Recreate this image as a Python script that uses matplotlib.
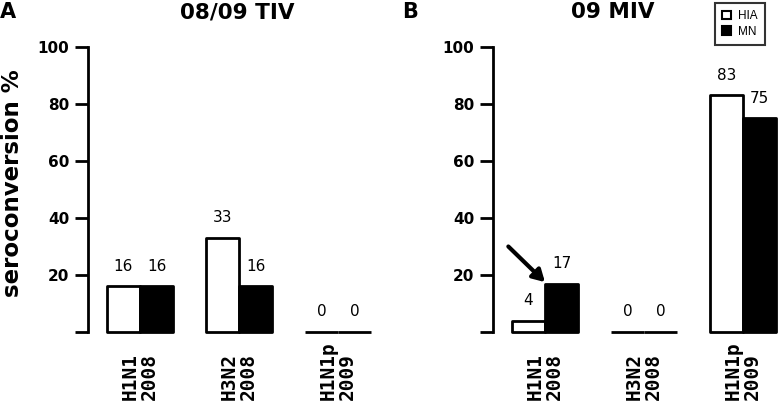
import matplotlib
matplotlib.use("Agg")
import matplotlib.pyplot as plt
from matplotlib.patches import Patch
import numpy as np

categories = ["H1N1\n2008", "H3N2\n2008", "H1N1p\n2009"]
panel_titles = ["08/09 TIV", "09 MIV"]
panel_letters = ["A", "B"]
tiv_hia = [16, 33, 0]
tiv_mn = [16, 16, 0]
miv_hia = [4, 0, 83]
miv_mn = [17, 0, 75]
yticks = [0, 20, 40, 60, 80, 100]
ytick_labels = ["", "20", "40", "60", "80", "100"]
series_names = ["HIA", "MN"]

W, H = 778, 403
fig = plt.figure(figsize=(W / 100, H / 100), dpi=100)

def px_axes(left, right, bottom, top):
    return fig.add_axes([left / W, 1 - bottom / H, (right - left) / W, (bottom - top) / H])

unit = 99.0
axA = px_axes(88, 88 + 3.025 * unit, 332, 47)
axB = px_axes(493, 493 + 2.879 * unit, 332, 47)
bw = 0.335

for ax, hia, mn, xr in [(axA, tiv_hia, tiv_mn, 2.5), (axB, miv_hia, miv_mn, 2.354)]:
    x = np.arange(len(categories))
    ax.bar(x - bw / 2, hia, bw, color="white", edgecolor="black", linewidth=2,
           clip_on=False, joinstyle="round")
    ax.bar(x + bw / 2, mn, bw, color="black", edgecolor="black", linewidth=2,
           clip_on=False, joinstyle="round")
    for xi, v in zip(x - bw / 2, hia):
        ax.annotate(str(v), (xi, v), xytext=(0, 9), textcoords="offset points",
                    ha="center", va="bottom", fontsize=11)
    for xi, v in zip(x + bw / 2, mn):
        ax.annotate(str(v), (xi, v), xytext=(0, 9), textcoords="offset points",
                    ha="center", va="bottom", fontsize=11)
    ax.set_xlim(-0.525, xr)
    ax.set_ylim(0, 100)
    for s in ["top", "right", "bottom"]:
        ax.spines[s].set_visible(False)
    ax.spines["left"].set_linewidth(2)
    ax.set_xticks([])
    ax.set_yticks(yticks)
    ax.set_yticklabels(ytick_labels, fontsize=11, fontweight="bold")
    ax.tick_params(axis="y", length=9.5, width=2, pad=4)
    for xi, lab in zip(x, categories):
        ax.text(xi, -0.24, lab, transform=ax.get_xaxis_transform(), rotation=90,
                ha="center", va="bottom", fontsize=14, fontweight="bold",
                family="DejaVu Sans Mono", linespacing=1.0, multialignment="left")

axA.set_ylabel("seroconversion %", fontsize=16.5, fontweight="bold")
axA.yaxis.set_label_coords(-64 / (3.025 * unit), 0.523)

# arrow in panel B
axB.annotate("", xy=(0.0, 17.5), xytext=(-0.37, 30),
             arrowprops=dict(arrowstyle="-|>,head_length=0.7,head_width=0.4",
                             color="black", lw=3, shrinkA=0, shrinkB=0))

fig.text(237 / W, 1 - 12.5 / H, panel_titles[0], ha="center", va="center",
         fontsize=15.5, fontweight="bold")
fig.text(613 / W, 1 - 12.5 / H, panel_titles[1], ha="center", va="center",
         fontsize=15.5, fontweight="bold")
fig.text(0 / W, 1 - 12.5 / H, panel_letters[0], ha="left", va="center",
         fontsize=15, fontweight="bold")
fig.text(402 / W, 1 - 12.5 / H, panel_letters[1], ha="left", va="center",
         fontsize=15, fontweight="bold")

handles = [Patch(facecolor="white", edgecolor="black", linewidth=1.5),
           Patch(facecolor="black", edgecolor="black", linewidth=1.5)]
leg = fig.legend(handles, series_names, loc="upper left",
                 bbox_to_anchor=(715 / W, 1 - 3 / H),
                 frameon=True, fancybox=False, edgecolor="black",
                 handlelength=0.75, handleheight=0.75, handletextpad=0.6,
                 borderpad=0.6, labelspacing=0.3, borderaxespad=0,
                 prop={"family": "Liberation Sans", "size": 8.5})
leg.get_frame().set_linewidth(1.5)

fig.savefig("out.png", dpi=100)
